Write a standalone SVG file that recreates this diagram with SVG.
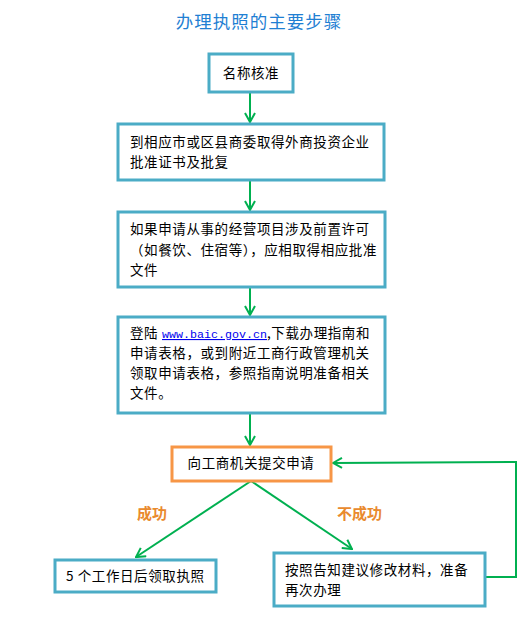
<svg xmlns="http://www.w3.org/2000/svg" width="529" height="623" viewBox="0 0 529 623">
<style>
.box{fill:#fff;stroke:#4bacc6;stroke-width:3}
.obox{fill:#fff;stroke:#f79646;stroke-width:3}
.t{font-family:"Noto Sans CJK SC","Noto Sans",sans-serif;font-size:13.5px;fill:#000;letter-spacing:0.6px}
.lbl{font-family:"Noto Sans CJK SC","Noto Sans",sans-serif;font-size:15px;font-weight:bold;fill:#e98a2e}
.c{fill:none;stroke:#00b050;stroke-width:2}
</style>
<defs>
<marker id="ah" viewBox="0 0 12 12" refX="11" refY="6" markerWidth="12" markerHeight="12" markerUnits="userSpaceOnUse" orient="auto">
<path d="M2,1 L11,6 L2,11" fill="none" stroke="#00b050" stroke-width="2"/>
</marker>
</defs>
<rect width="529" height="623" fill="#fff"/>
<text x="259" y="28" text-anchor="middle" font-family="'Noto Sans CJK SC',sans-serif" font-size="17.5" fill="#1f7fd3" letter-spacing="1">办理执照的主要步骤</text>

<g id="connectors">
<line class="c" x1="250" y1="92" x2="250" y2="122" marker-end="url(#ah)"/>
<line class="c" x1="250" y1="180" x2="250" y2="210" marker-end="url(#ah)"/>
<line class="c" x1="250" y1="287" x2="250" y2="315" marker-end="url(#ah)"/>
<line class="c" x1="250" y1="413" x2="250" y2="445" marker-end="url(#ah)"/>
<line class="c" x1="251" y1="481" x2="136" y2="557" marker-end="url(#ah)"/>
<line class="c" x1="251" y1="481" x2="352" y2="549" marker-end="url(#ah)"/>
<polyline class="c" points="485,577 516,577 516,462 333,463" marker-end="url(#ah)"/>
</g>

<g id="n1">
<rect class="box" x="209" y="54" width="84" height="38"/>
<text class="t" x="251" y="78" text-anchor="middle">名称核准</text>
</g>
<g id="n2">
<rect class="box" x="118" y="124" width="266" height="56"/>
<text class="t" x="130" y="147">到相应市或区县商委取得外商投资企业</text>
<text class="t" x="130" y="167">批准证书及批复</text>
</g>
<g id="n3">
<rect class="box" x="118" y="212" width="267" height="75"/>
<text class="t" x="130" y="234">如果申请从事的经营项目涉及前置许可</text>
<text class="t" x="130" y="255">（如餐饮、住宿等），应相取得相应批准</text>
<text class="t" x="130" y="275">文件</text>
</g>
<g id="n4">
<rect class="box" x="118" y="317" width="267" height="96"/>
<text class="t" x="130" y="338">登陆<tspan x="162" font-family="'Liberation Mono',monospace" font-size="11" letter-spacing="0" fill="#0000ee" text-decoration="underline" textLength="105" lengthAdjust="spacingAndGlyphs">www.baic.gov.cn</tspan><tspan x="267">,下载办理指南和</tspan></text>
<text class="t" x="130" y="358">申请表格，或到附近工商行政管理机关</text>
<text class="t" x="130" y="378">领取申请表格，参照指南说明准备相关</text>
<text class="t" x="130" y="398">文件。</text>
</g>
<g id="n5">
<rect class="obox" x="172" y="447" width="159" height="34"/>
<text class="t" x="251" y="468" text-anchor="middle">向工商机关提交申请</text>
</g>
<g id="n6">
<rect class="box" x="55" y="560" width="161" height="32"/>
<text class="t" x="66" y="581">5 个工作日后领取执照</text>
</g>
<g id="n7">
<rect class="box" x="274" y="553" width="211" height="53"/>
<text class="t" x="285" y="575">按照告知建议修改材料，准备</text>
<text class="t" x="285" y="595">再次办理</text>
</g>
<text class="lbl" x="137" y="519">成功</text>
<text class="lbl" x="337" y="519">不成功</text>
</svg>
